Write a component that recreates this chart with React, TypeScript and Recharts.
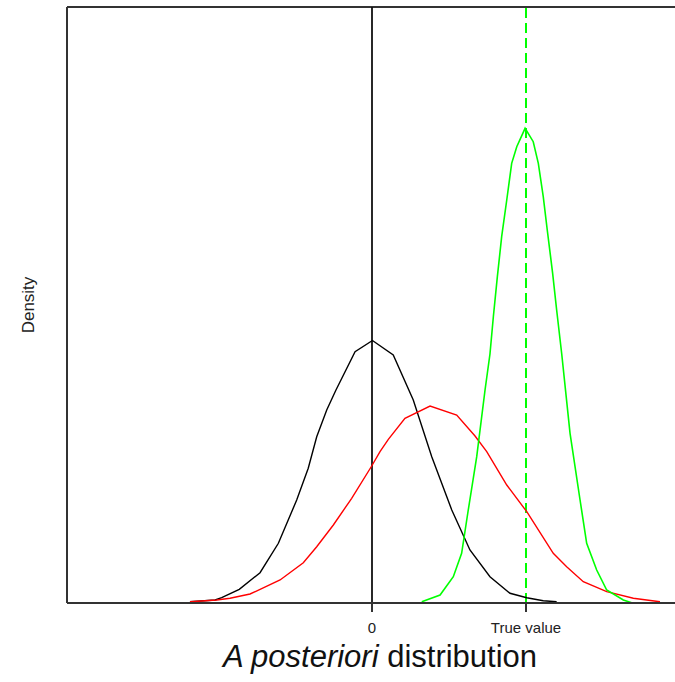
import { LineChart, Line, XAxis, YAxis, ReferenceLine } from 'recharts'

// x in units where 0 = origin and 1 = true value; y = density (arbitrary units)
const priorX = [-1.182, -1.019, -0.976, -0.862, -0.727, -0.608, -0.489, -0.414, -0.359, -0.294, -0.234, -0.11, 0.003, 0.138, 0.268, 0.388, 0.518, 0.636, 0.766, 0.896, 1.005, 1.112, 1.199]
const priorY = [0.013, 0.03, 0.053, 0.137, 0.303, 0.597, 1.03, 1.347, 1.663, 1.93, 2.13, 2.513, 2.625, 2.48, 2.03, 1.463, 0.93, 0.53, 0.263, 0.097, 0.053, 0.023, 0.013]

const redX = [-1.182, -1.008, -0.922, -0.792, -0.597, -0.446, -0.359, -0.251, -0.132, -0.002, 0.052, 0.106, 0.214, 0.377, 0.55, 0.669, 0.745, 0.875, 1.005, 1.177, 1.264, 1.372, 1.524, 1.697, 1.87]
const redY = [0.013, 0.03, 0.047, 0.09, 0.23, 0.403, 0.563, 0.78, 1.047, 1.37, 1.513, 1.637, 1.847, 1.97, 1.88, 1.67, 1.513, 1.18, 0.913, 0.497, 0.363, 0.213, 0.113, 0.047, 0.013]

const greenX = [0.323, 0.442, 0.528, 0.582, 0.625, 0.68, 0.734, 0.766, 0.788, 0.814, 0.842, 0.875, 0.907, 0.94, 0.994, 1.047, 1.08, 1.112, 1.138, 1.173, 1.199, 1.232, 1.286, 1.351, 1.394, 1.459, 1.524, 1.632, 1.686]
const greenY = [0.013, 0.08, 0.263, 0.497, 0.93, 1.463, 2.13, 2.49, 2.863, 3.263, 3.663, 4.03, 4.397, 4.563, 4.747, 4.613, 4.397, 4.063, 3.73, 3.297, 2.93, 2.49, 1.697, 1.03, 0.597, 0.33, 0.13, 0.03, 0.003]

const xTicks = [0, 1]
const xTickLabels = ['0', 'True value']
const xDomain = [-1.9805, 1.9675]
const yMax = 5.96

const zip = (xs: number[], ys: number[]) => xs.map((x, i) => ({ x, y: ys[i] }))

const FONT = '"Liberation Sans", Arial, sans-serif'

function DensityLabel() {
  return (
    <text x={28} y={305} transform="rotate(-90 28 305)" textAnchor="middle" dominantBaseline="central"
      fontFamily={FONT} fontSize={17} fill="#222">Density</text>
  )
}

function TitleLabel() {
  return (
    <text x={380} y={667} textAnchor="middle" fontFamily={FONT} fontSize={31} fill="#111">
      <tspan fontStyle="italic">A posteriori</tspan>
      <tspan> distribution</tspan>
    </text>
  )
}

export default function App() {
  return (
    <div style={{ position: 'absolute', left: 0, top: 0, width: 675, height: 682, overflow: 'hidden', background: '#fff' }}>
      <LineChart width={675} height={682} margin={{ top: 7, right: 0, bottom: 0, left: 0 }}>
        <XAxis
          type="number" dataKey="x" domain={xDomain} allowDataOverflow
          ticks={xTicks} tickFormatter={v => xTickLabels[xTicks.indexOf(v)] ?? ''}
          height={79} tickSize={9} tickMargin={10}
          stroke="#333" strokeWidth={2}
          tick={{ fill: '#222', fontSize: 15, fontFamily: FONT }}
          label={<TitleLabel />}
        />
        <YAxis
          type="number" dataKey="y" domain={[0, yMax]} allowDataOverflow
          width={67} tick={false} tickLine={false}
          stroke="#333" strokeWidth={2}
          label={<DensityLabel />}
        />
        <ReferenceLine y={yMax} stroke="#333" strokeWidth={2} />
        <ReferenceLine x={0} stroke="#111" strokeWidth={1.8} />
        <ReferenceLine x={1} stroke="#00ff00" strokeWidth={2} strokeDasharray="10 5" />
        <Line data={zip(priorX, priorY)} dataKey="y" type="linear" stroke="#000" strokeWidth={1.4} dot={false} isAnimationActive={false} />
        <Line data={zip(redX, redY)} dataKey="y" type="linear" stroke="#ff0000" strokeWidth={1.4} dot={false} isAnimationActive={false} />
        <Line data={zip(greenX, greenY)} dataKey="y" type="linear" stroke="#00ff00" strokeWidth={1.6} dot={false} isAnimationActive={false} />
      </LineChart>
    </div>
  )
}
